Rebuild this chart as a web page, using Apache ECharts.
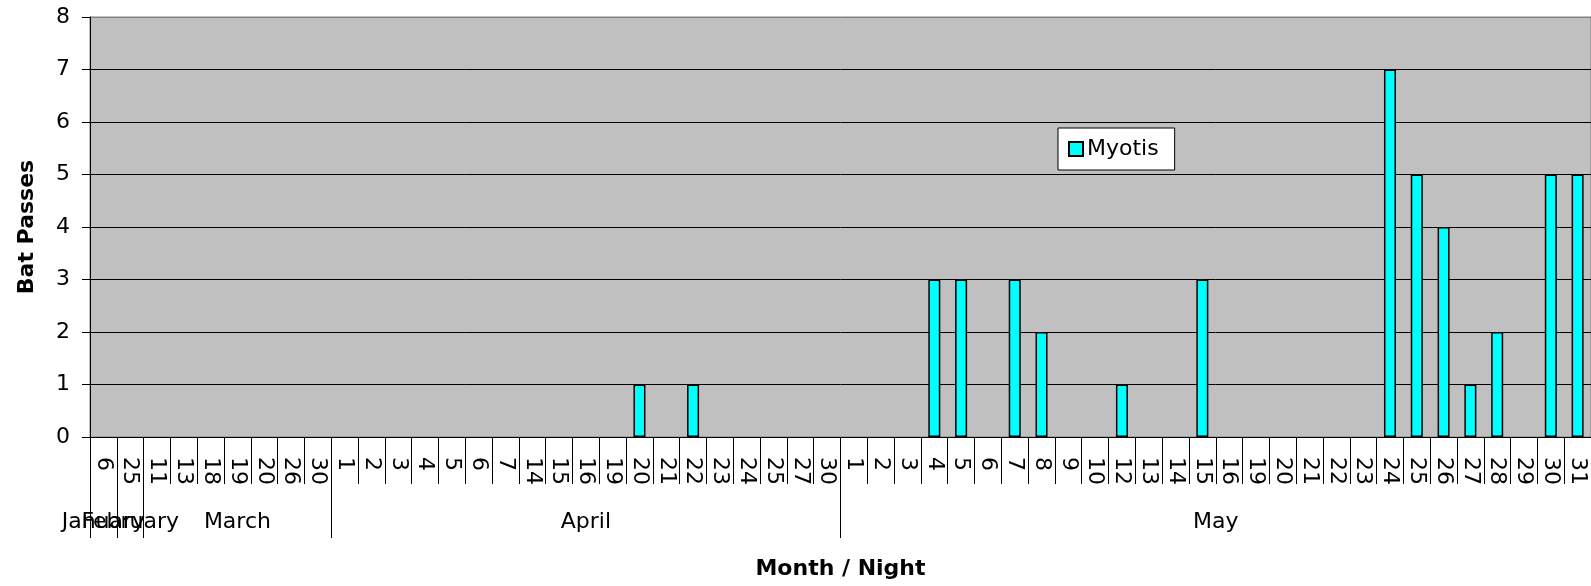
<!DOCTYPE html>
<html>
<head>
<meta charset="utf-8">
<script src="https://cdn.jsdelivr.net/npm/echarts@6/dist/echarts.min.js"></script>
<style>
html,body{margin:0;padding:0;background:#fff;}
#c{width:1591px;height:586px;}
</style>
</head>
<body>
<div id="c"></div>
<script>
// Night labels (day of month) in order
var nights = ['6','25',
  '11','13','18','19','20','26','30',
  '1','2','3','4','5','6','7','14','15','16','19','20','21','22','23','24','25','27','30',
  '1','2','3','4','5','6','7','8','9','10','12','13','14','15','16','19','20','21','22','23','24','25','26','27','28','29','30','31'];
// Myotis bat passes per night
var myotis = [0,0,
  0,0,0,0,0,0,0,
  0,0,0,0,0,0,0,0,0,0,0,1,0,1,0,0,0,0,0,
  0,0,0,3,3,0,3,2,0,0,1,0,0,3,0,0,0,0,0,0,7,5,4,1,2,0,5,5];
// Month groups: name and number of nights
var months = ['January','February','March','April','May'];
var monthCounts = [1,1,7,19,28];
var yTicks = [0,1,2,3,4,5,6,7,8];

var boundaries = [], centers = [], acc = 0;
for (var i = 0; i < monthCounts.length; i++) {
  boundaries.push(acc);
  centers.push(acc + monthCounts[i] / 2);
  acc += monthCounts[i];
}
// labels split over two axes so that overlapping month names are both drawn
var centersA = centers.filter(function (c, k) { return k % 2 === 0; });
var centersB = centers.filter(function (c, k) { return k % 2 === 1; });
var font = '"DejaVu Sans", Arial, sans-serif';
function monthAxis(vals, ticks) {
  return {
    type: 'value', min: 0, max: nights.length, position: 'bottom',
    axisLine: {show: false},
    splitLine: {show: false},
    axisTick: {show: ticks, customValues: boundaries, length: 101, lineStyle: {color: '#000'}},
    axisLabel: {customValues: vals, margin: 74, hideOverlap: false, showMinLabel: true, showMaxLabel: true,
      fontFamily: font, fontSize: 22, color: '#000',
      formatter: function (v) { var k = centers.indexOf(v); return k >= 0 ? months[k] : ''; }}
  };
}
var chart = echarts.init(document.getElementById('c'));
chart.setOption({
  animation: false,
  grid: {left: 90, right: -6.6, top: 17, bottom: 149, show: true,
    backgroundColor: '#C0C0C0', borderColor: '#808080', borderWidth: 1},
  legend: {
    left: 1058, top: 128, padding: [10, 16, 10, 10],
    backgroundColor: '#fff', borderColor: '#000', borderWidth: 1,
    itemWidth: 14, itemHeight: 14, itemGap: 10, icon: 'rect',
    textStyle: {fontFamily: font, fontSize: 22, color: '#000', padding: [0,0,0,-1]},
    data: ['Myotis']
  },
  xAxis: [{
    type: 'category', data: nights, boundaryGap: true,
    axisLine: {lineStyle: {color: '#000', width: 1}},
    axisTick: {show: true, interval: 0, length: 47, lineStyle: {color: '#000'}},
    axisLabel: {interval: 0, rotate: -90, margin: 20, hideOverlap: false, showMinLabel: true, showMaxLabel: true,
      fontFamily: font, fontSize: 22, color: '#000'},
    name: 'Month / Night', nameLocation: 'middle', nameGap: 121,
    nameTextStyle: {fontFamily: font, fontSize: 22, fontWeight: 'bold', color: '#000'}
  }, monthAxis(centersA, true), monthAxis(centersB, false)],
  yAxis: {
    type: 'value', min: 0, max: 8, interval: 1,
    axisLine: {show: true, lineStyle: {color: '#000'}},
    axisTick: {show: true, length: 8, lineStyle: {color: '#000'}},
    axisLabel: {margin: 20, fontFamily: font, fontSize: 22, color: '#000',
      formatter: function (v) { return yTicks.indexOf(v) >= 0 ? String(v) : ''; }},
    splitLine: {show: true, lineStyle: {color: ['#000','#000','#000','#000','#000','#000','#000','#000','#808080'], width: 1}},
    name: 'Bat Passes', nameLocation: 'middle', nameGap: 52,
    nameTextStyle: {fontFamily: font, fontSize: 22, fontWeight: 'bold', color: '#000'}
  },
  series: [{
    name: 'Myotis', type: 'bar', barWidth: 12,
    data: myotis.map(function (v) { return v === 0 ? null : v; }),
    itemStyle: {color: '#00FFFF', borderColor: '#000', borderWidth: 1.5}
  }]
});
</script>
</body>
</html>
